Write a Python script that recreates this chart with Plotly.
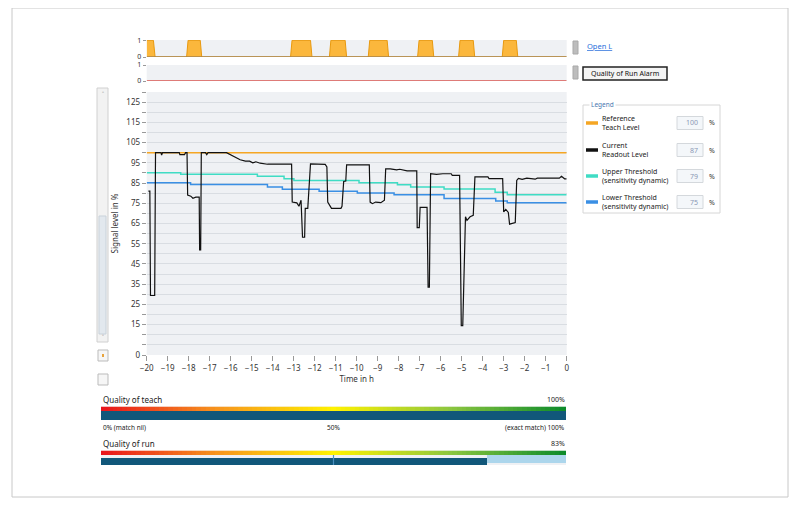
import plotly.graph_objects as go

W, H = 800, 505

# ---------------- data ----------------
time_current = [-19.92, -19.85, -19.82, -19.62, -19.58, -19.32, -19.29, -19.25, -18.45, -18.42, -18.2, -18.15,
                -18.08, -18.05, -17.9, -17.8, -17.66, -17.5, -17.48, -17.43, -17.4, -17.2, -17.14, -17.08,
                -16.2, -16.0, -15.85, -15.7, -15.55, -15.3, -15.1, -14.95, -14.8, -14.6, -14.25, -13.1,
                -13.07, -12.85, -12.75, -12.65, -12.58, -12.48, -12.45, -12.33, -12.2, -11.5, -11.42, -11.38,
                -11.3, -11.2, -10.75, -10.7, -10.62, -10.52, -10.48, -9.4, -9.36, -9.25, -9.1, -8.85, -8.68,
                -8.62, -8.4, -8.1, -7.95, -7.6, -7.14, -7.12, -7.02, -6.98, -6.65, -6.6, -6.54, -6.48, -6.2,
                -5.9, -5.5, -5.45, -5.1, -5.02, -4.95, -4.82, -4.75, -4.6, -4.45, -4.37, -3.75, -3.7, -3.05,
                -3.0, -2.9, -2.78, -2.72, -2.45, -2.38, -2.3, -2.12, -1.9, -1.5, -1.4, -0.35, -0.25, -0.1, 0.0]
level_current = [81, 81, 29.4, 29.4, 100, 100, 98.8, 100, 100, 99, 99, 100,
                 100, 79, 78.5, 77.5, 78, 78, 52, 52, 100, 100, 99, 100,
                 100, 99, 98, 97.5, 96.5, 95.8, 95.8, 95, 95.5, 94.8, 94.3, 94.3,
                 75.6, 75.2, 73.5, 76.5, 58.2, 58.2, 72.5, 72.5, 94.5, 94.2, 93, 75.6,
                 74, 72.5, 72.5, 73.5, 85.8, 86, 94, 94, 75.6, 74.8, 75.6, 75.3, 76.5,
                 92, 92, 91.5, 91.8, 91, 91, 63, 63, 73, 73, 33.5, 33.5, 89.6, 89.3,
                 89.6, 89.6, 88.8, 88.8, 14.5, 14.5, 68.3, 66.5, 68.3, 69, 88, 88, 87.2, 87.2,
                 70.7, 72, 70.5, 64.7, 65.5, 86.3, 87.3, 86.8, 87.4, 86.9, 87.4, 87.4, 88.3, 87.1, 87.1]

time_upper = [-20, -18.38, -14.73, -13.46, -12.99, -9.89, -8.06, -7.43, -5.84, -3.41, -2.83, 0]
level_upper = [90.1, 89.3, 88.3, 87.1, 86.3, 85.1, 84.1, 83.0, 82.0, 80.5, 79.2, 79.2]

time_lower = [-20, -17.91, -14.25, -13.54, -11.79, -9.97, -8.22, -5.84, -3.38, -2.83, 0]
level_lower = [85.1, 84.3, 83.0, 81.9, 80.9, 80.1, 79.2, 77.3, 76.1, 75.3, 75.3]

time_reference = [-20, 0]
level_reference = [100, 100]

time_alarm = [-20, -19.68, -19.6, -18.1, -18.03, -17.45, -17.38, -13.15, -13.08, -12.2, -12.13, -11.3, -11.23,
              -10.55, -10.48, -9.45, -9.38, -8.55, -8.48, -7.1, -7.03, -6.4, -6.33, -5.15, -5.08, -4.45,
              -4.38, -3.07, -3.0, -2.4, -2.33, 0]
state_alarm = [1, 1, 0, 0, 1, 1, 0, 0, 1, 1, 0, 0, 1, 1, 0, 0, 1, 1, 0, 0, 1, 1, 0, 0, 1, 1, 0, 0, 1, 1, 0, 0]

time_run_alarm = [-20, 0]
state_run_alarm = [0, 0]

x_ticks = list(range(-20, 1))
y_tickvals = [0, 15, 25, 35, 45, 55, 65, 75, 85, 95, 105, 115, 125]

legend_names = ["Reference<br>Teach Level", "Current<br>Readout Level",
                "Upper Threshold<br>(sensitivity dynamic)", "Lower Threshold<br>(sensitivity dynamic)"]
legend_values = [100, 87, 79, 75]

quality_teach = 100
quality_run = 83
quality_run_marker = 50
gradient_steps = list(range(0, 101))

# ---------------- style ----------------
FONT = "Noto Sans"
C_REF = "#f5a623"
C_CUR = "#111111"
C_UP = "#3fdcc4"
C_LO = "#3a8fe4"
C_DARK = "#11577a"
C_LIGHT = "#acd6ec"
grad_scale = [[0, "#e8141c"], [0.25, "#f7941d"], [0.5, "#fff200"], [0.75, "#8cc63f"], [1, "#0b8a2a"]]

# screen pixel -> paper fraction (page body has an 8px margin)
OFF = 8


def px(x):
    return (x - OFF) / W


def py(y):
    return 1 - (y - OFF) / H


fig = go.Figure()

# main chart
fig.add_trace(go.Scatter(x=time_reference, y=level_reference, mode="lines",
                         line=dict(color=C_REF, width=1.5), xaxis="x", yaxis="y"))
fig.add_trace(go.Scatter(x=time_upper, y=level_upper, mode="lines", line_shape="hv",
                         line=dict(color=C_UP, width=1.5), xaxis="x", yaxis="y"))
fig.add_trace(go.Scatter(x=time_lower, y=level_lower, mode="lines", line_shape="hv",
                         line=dict(color=C_LO, width=1.5), xaxis="x", yaxis="y"))
fig.add_trace(go.Scatter(x=time_current, y=level_current, mode="lines",
                         line=dict(color=C_CUR, width=1.2), xaxis="x", yaxis="y"))

# alarm strip
fig.add_trace(go.Scatter(x=time_alarm, y=state_alarm, mode="lines", fill="tozeroy",
                         fillcolor="#fbb73c", line=dict(color="#e8990f", width=1),
                         xaxis="x2", yaxis="y2"))
fig.add_trace(go.Scatter(x=[-20, 0], y=[0, 0], mode="lines", line=dict(color="#a8834a", width=1.5),
                         xaxis="x2", yaxis="y2"))
# quality of run alarm strip
fig.add_trace(go.Scatter(x=time_run_alarm, y=state_run_alarm, mode="lines",
                         line=dict(color="#d9534f", width=1.5), xaxis="x3", yaxis="y3", cliponaxis=False))

# quality of teach
fig.add_trace(go.Heatmap(z=[gradient_steps], x=gradient_steps, y=[0], colorscale=grad_scale,
                         showscale=False, xaxis="x4", yaxis="y4", hoverinfo="skip"))
fig.add_trace(go.Bar(x=[quality_teach], y=[0], base=0, orientation="h", width=1,
                     marker=dict(color=C_DARK, line_width=0), xaxis="x5", yaxis="y5"))
# quality of run
fig.add_trace(go.Heatmap(z=[gradient_steps], x=gradient_steps, y=[0], colorscale=grad_scale,
                         showscale=False, xaxis="x6", yaxis="y6", hoverinfo="skip"))
fig.add_trace(go.Bar(x=[quality_run], y=[0], base=0, orientation="h", width=1,
                     marker=dict(color=C_DARK, line_width=0), xaxis="x7", yaxis="y7"))
fig.add_trace(go.Bar(x=[100 - quality_run], y=[0], base=quality_run, orientation="h", width=1,
                     marker=dict(color=C_LIGHT, line_width=0), xaxis="x7", yaxis="y7"))
fig.add_trace(go.Scatter(x=[quality_run_marker, quality_run_marker], y=[0.5, -0.75], mode="lines",
                         line=dict(color="#4a8fc0", width=1.2), xaxis="x7", yaxis="y7", cliponaxis=False))
fig.add_trace(go.Scatter(x=[quality_run_marker], y=[-0.8], mode="markers",
                         marker=dict(symbol="triangle-up-open", size=5, color="#4a8fc0"),
                         xaxis="x7", yaxis="y7", cliponaxis=False))

dom_x = [px(146.7), px(566.7)]
dom_q = [px(101), px(566)]
hidden = dict(visible=False, fixedrange=True)

layout = dict(
    width=W, height=H, autosize=False, showlegend=False,
    margin=dict(l=0, r=0, t=0, b=0),
    paper_bgcolor="white", plot_bgcolor="#eff1f4",
    font=dict(family=FONT, size=8, color="#333"),
    bargap=0,
    xaxis=dict(domain=dom_x, range=[-20, 0], anchor="y", tickvals=x_ticks, ticks="outside",
               ticklen=5, tickcolor="#999", showgrid=False, zeroline=False, showline=False,
               tickfont=dict(size=8, color="#333"), automargin=False,
               title=dict(text="Time in h", font=dict(size=8), standoff=4)),
    yaxis=dict(domain=[py(355), py(92)], range=[0, 130], anchor="x", tickvals=y_tickvals,
               ticks="outside", ticklen=4, tickcolor="#999", showgrid=True, gridcolor="#d9dde2",
               zeroline=False, showline=False, tickfont=dict(size=8, color="#333"), automargin=False,
               minor=dict(dtick=5, tick0=0, ticks="outside", ticklen=4, tickcolor="#999",
                          showgrid=True, gridcolor="#d9dde2"),
               title=dict(text="Signal level in %", font=dict(size=8), standoff=6)),
    xaxis2=dict(domain=dom_x, range=[-20, 0], anchor="y2", **hidden),
    yaxis2=dict(domain=[py(57), py(40)], range=[0, 1.02], anchor="x2", tickvals=[0, 1],
                ticks="outside", ticklen=3, tickcolor="#999", showgrid=False, zeroline=False,
                tickfont=dict(size=7), automargin=False),
    xaxis3=dict(domain=dom_x, range=[-20, 0], anchor="y3", **hidden),
    yaxis3=dict(domain=[py(81), py(65)], range=[0, 1], anchor="x3", tickvals=[0, 1],
                ticks="outside", ticklen=3, tickcolor="#999", showgrid=False, zeroline=False,
                tickfont=dict(size=7), automargin=False),
    xaxis4=dict(domain=dom_q, range=[0, 100], anchor="y4", **hidden),
    yaxis4=dict(domain=[py(411), py(406.5)], range=[-0.5, 0.5], anchor="x4", **hidden),
    xaxis5=dict(domain=dom_q, range=[0, 100], anchor="y5", **hidden),
    yaxis5=dict(domain=[py(420), py(411)], range=[-0.5, 0.5], anchor="x5", **hidden),
    xaxis6=dict(domain=dom_q, range=[0, 100], anchor="y6", **hidden),
    yaxis6=dict(domain=[py(455), py(450.5)], range=[-0.5, 0.5], anchor="x6", **hidden),
    xaxis7=dict(domain=dom_q, range=[0, 100], anchor="y7", **hidden),
    yaxis7=dict(domain=[py(465), py(455)], range=[-0.5, 0.5], anchor="x7", **hidden),
)
fig.update_layout(**layout)

shapes = []
ann = []


def rect(x0, y0, x1, y1, fill="rgba(0,0,0,0)", line="#cccccc", lw=1):
    shapes.append(dict(type="rect", xref="paper", yref="paper", x0=px(x0), x1=px(x1),
                       y0=py(y1), y1=py(y0), fillcolor=fill, line=dict(color=line, width=lw), layer="above"))


def text(x, y, s, size=8, color="#222", xanchor="left", **kw):
    ann.append(dict(xref="paper", yref="paper", x=px(x), y=py(y), text=s, showarrow=False,
                    xanchor=xanchor, yanchor="middle", font=dict(size=size, color=color, family=FONT), **kw))


# outer frame
rect(12, 8, 788, 497, line="#c8c8c8")

# left scrollbar & buttons
rect(97, 88, 108, 342, fill="#f2f2f2", line="#d0d0d0")
rect(99, 216, 106, 334, fill="#e2e8ee", line="#c9d2da")
text(102.5, 94, "˄", size=7, color="#777", xanchor="center")
text(102.5, 337, "˅", size=7, color="#777", xanchor="center")
rect(98, 350, 108, 361, fill="#f6f6f6", line="#bbbbbb")
shapes.append(dict(type="rect", xref="paper", yref="paper", x0=px(102), x1=px(104), y0=py(357), y1=py(354),
                   fillcolor="#e8a33c", line=dict(width=0)))
rect(98, 374, 108, 385, fill="#f6f6f6", line="#bbbbbb")

# strip side controls
rect(573, 41, 578, 54, fill="#bdbdbd", line="#a9a9a9")
text(585, 46, "<u>Open L</u>", size=7.5, color="#2a6fdb")
rect(573, 66, 578, 79, fill="#bdbdbd", line="#a9a9a9")
rect(583, 67, 667, 80, fill="#f4f4f4", line="#222222", lw=1.5)
text(625, 73.5, "Quality of Run Alarm", size=7, color="#111", xanchor="center")

# legend box
rect(583, 105, 720, 213, line="#d6d6d6")
text(589, 105, "Legend", size=6.5, color="#4a78b0", bgcolor="white")
legend_colors = [C_REF, C_CUR, C_UP, C_LO]
ys = [123, 150, 176, 202]
for name, val, col, yc in zip(legend_names, legend_values, legend_colors, ys):
    shapes.append(dict(type="line", xref="paper", yref="paper", x0=px(586), x1=px(598), y0=py(yc), y1=py(yc),
                       line=dict(color=col, width=3.5)))
    text(600, yc, name, size=7, color="#222", align="left")
    rect(677, yc - 6.5, 703, yc + 6.5, fill="#f4f7fa", line="#d4d8dc")
    text(700, yc, str(val), size=7, color="#8a97b5", xanchor="right")
    text(707, yc, "%", size=7, color="#333")

# quality texts
text(101, 399, "Quality of teach", size=8, color="#222")
text(567, 399, f"{quality_teach}%", size=7, color="#222", xanchor="right")
text(101, 427, "0% (match nil)", size=6.5, color="#222")
text(333.5, 427, "50%", size=6.5, color="#222", xanchor="center")
text(567, 427, "(exact match) 100%", size=6.5, color="#222", xanchor="right")
text(101, 443, "Quality of run", size=8, color="#222")
text(567, 443, f"{quality_run}%", size=7, color="#222", xanchor="right")

fig.update_layout(shapes=shapes, annotations=ann)
fig.write_html("out.html")
